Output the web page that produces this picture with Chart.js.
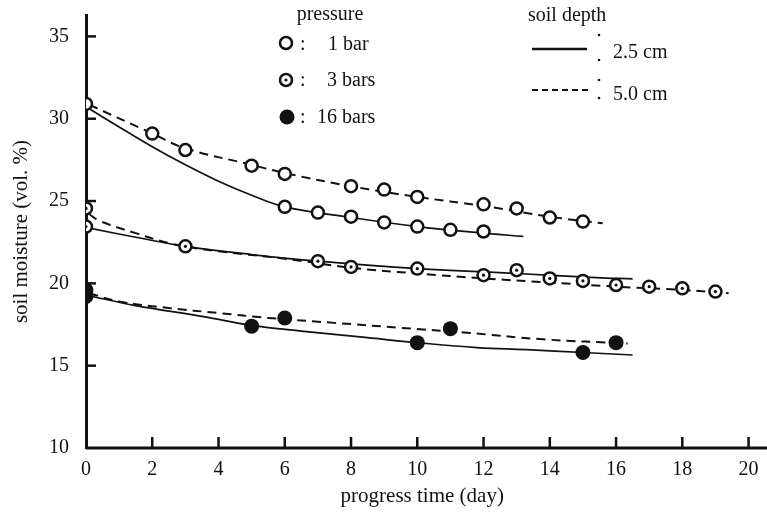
<!DOCTYPE html>
<html>
<head>
<meta charset="utf-8">
<title>soil moisture</title>
<script src="https://cdn.jsdelivr.net/npm/chart.js@4.4.1/dist/chart.umd.min.js"></script>
<style>
  html, body { margin: 0; padding: 0; background: #fff; }
</style>
</head>
<body>
<canvas id="soil-chart" width="767" height="520"></canvas>
<script>
const xTicks = [0, 2, 4, 6, 8, 10, 12, 14, 16, 18, 20];
const yTicks = [10, 15, 20, 25, 30, 35];

// measured points (day, vol. %)
const bar1Days25 = [6, 7, 8, 9, 10, 11, 12];
const bar1Moist25 = [24.65, 24.3, 24.05, 23.7, 23.45, 23.25, 23.15];
const bar1Days50 = [0, 2, 3, 5, 6, 8, 9, 10, 12, 13, 14, 15];
const bar1Moist50 = [30.9, 29.1, 28.1, 27.15, 26.65, 25.9, 25.7, 25.25, 24.8, 24.55, 24.0, 23.75];

const bar3Days25 = [0, 3, 7, 10, 13, 15];
const bar3Moist25 = [23.45, 22.25, 21.35, 20.9, 20.8, 20.15];
const bar3Days50 = [0, 8, 12, 14, 16, 17, 18, 19];
const bar3Moist50 = [24.55, 21.0, 20.5, 20.3, 19.9, 19.8, 19.7, 19.5];

const bar16Days25 = [0, 5, 10, 15];
const bar16Moist25 = [19.2, 17.4, 16.4, 15.8];
const bar16Days50 = [0, 6, 11, 16];
const bar16Moist50 = [19.6, 17.9, 17.25, 16.4];

// fitted curves
const bar1CurveX25 = [0.1, 1, 2, 3, 4, 5, 6, 8, 10, 12, 13.2];
const bar1CurveY25 = [30.6, 29.5, 28.3, 27.2, 26.2, 25.35, 24.65, 24.0, 23.45, 23.05, 22.85];
const bar1CurveX50 = [0.1, 2, 3, 5, 6, 8, 10, 12, 14, 15.6];
const bar1CurveY50 = [30.85, 29.1, 28.2, 27.2, 26.7, 25.9, 25.25, 24.7, 24.05, 23.65];

const bar3CurveX25 = [0.1, 1.5, 3, 5, 7, 10, 13, 15.4, 16.5];
const bar3CurveY25 = [23.35, 22.8, 22.25, 21.75, 21.35, 20.9, 20.6, 20.35, 20.27];
const bar3CurveX50 = [0.1, 0.4, 1.5, 2.6, 4, 6, 8, 10, 12, 14, 16, 18, 19.4];
const bar3CurveY50 = [24.2, 23.8, 23.05, 22.4, 21.95, 21.5, 20.95, 20.6, 20.3, 20.05, 19.8, 19.6, 19.4];

const bar16CurveX25 = [0.1, 1.5, 3.5, 5, 6.5, 8.5, 10, 11.8, 13.3, 15, 16.5];
const bar16CurveY25 = [19.25, 18.65, 18.0, 17.45, 17.1, 16.7, 16.4, 16.1, 15.97, 15.8, 15.65];
const bar16CurveX50 = [0.1, 1, 2.5, 4, 5.5, 7.5, 9.5, 11.5, 13.8, 16.35];
const bar16CurveY50 = [19.4, 18.9, 18.5, 18.2, 17.9, 17.6, 17.3, 17.0, 16.6, 16.35];

const FONT = 'Liberation Serif, Times New Roman, serif';
const INK = '#111';

const pairs = (xs, ys) => xs.map((x, i) => ({ x: x, y: ys[i] }));

const curve = (xs, ys, dashed) => ({
  data: pairs(xs, ys),
  showLine: true,
  borderColor: INK,
  borderWidth: dashed ? 2 : 1.7,
  borderDash: dashed ? [9, 6] : [],
  pointRadius: 0,
  tension: 0.4,
  fill: false,
  order: 3
});

const openDots = (xs, ys) => ({
  data: pairs(xs, ys),
  showLine: false,
  pointRadius: 6,
  pointBorderWidth: 2.5,
  pointBackgroundColor: '#fff',
  pointBorderColor: INK,
  order: 2
});

const centerDots = (xs, ys) => ({
  data: pairs(xs, ys),
  showLine: false,
  pointRadius: 1.6,
  pointBorderWidth: 0,
  pointBackgroundColor: INK,
  order: 1
});

const solidDots = (xs, ys) => ({
  data: pairs(xs, ys),
  showLine: false,
  pointRadius: 7.5,
  pointBorderWidth: 0,
  pointBackgroundColor: INK,
  order: 2
});

// tick marks point into the plot, plus the two hand-drawn keys
const decorations = {
  id: 'decorations',
  beforeDraw(chart) {
    const ctx = chart.ctx;
    ctx.save();
    ctx.fillStyle = '#fff';
    ctx.fillRect(0, 0, chart.width, chart.height);
    ctx.restore();
  },
  afterDraw(chart) {
    const ctx = chart.ctx;
    const area = chart.chartArea;
    const xs = chart.scales.x;
    const ys = chart.scales.y;
    ctx.save();
    ctx.strokeStyle = INK;
    // axis runs on to the right edge as in the scan
    ctx.lineWidth = 3;
    ctx.beginPath();
    ctx.moveTo(area.left, area.bottom);
    ctx.lineTo(chart.width, area.bottom);
    ctx.stroke();

    ctx.lineWidth = 2.5;
    xTicks.forEach(v => {
      if (v === 0) return;
      const px = xs.getPixelForValue(v);
      ctx.beginPath();
      ctx.moveTo(px, area.bottom);
      ctx.lineTo(px, area.bottom - 11);
      ctx.stroke();
    });
    yTicks.forEach(v => {
      if (v === 10) return;
      const py = ys.getPixelForValue(v);
      ctx.beginPath();
      ctx.moveTo(area.left, py);
      ctx.lineTo(area.left + 10, py);
      ctx.stroke();
    });

    // pressure key
    ctx.fillStyle = INK;
    ctx.font = '20px ' + FONT;
    ctx.textBaseline = 'alphabetic';
    ctx.textAlign = 'center';
    ctx.fillText('pressure', 330, 20);
    ctx.textAlign = 'left';

    ctx.lineWidth = 2.5;
    ctx.beginPath();
    ctx.arc(286, 43, 6, 0, Math.PI * 2);
    ctx.fillStyle = '#fff';
    ctx.fill();
    ctx.stroke();
    ctx.beginPath();
    ctx.arc(286, 80, 6, 0, Math.PI * 2);
    ctx.fill();
    ctx.stroke();
    ctx.fillStyle = INK;
    ctx.beginPath();
    ctx.arc(286, 80, 1.6, 0, Math.PI * 2);
    ctx.fill();
    ctx.beginPath();
    ctx.arc(287, 117, 7.5, 0, Math.PI * 2);
    ctx.fill();

    ctx.fillText(':', 300, 50);
    ctx.fillText('1 bar', 328, 50);
    ctx.fillText(':', 300, 86);
    ctx.fillText('3 bars', 327, 86);
    ctx.fillText(':', 300, 123);
    ctx.fillText('16 bars', 317, 123);

    // soil depth key
    ctx.fillText('soil depth', 528, 21);
    ctx.lineWidth = 2.5;
    ctx.beginPath();
    ctx.moveTo(532, 49);
    ctx.lineTo(587, 49);
    ctx.stroke();
    ctx.lineWidth = 2;
    ctx.setLineDash([6, 4]);
    ctx.beginPath();
    ctx.moveTo(532, 90);
    ctx.lineTo(588, 90);
    ctx.stroke();
    ctx.setLineDash([]);
    [35, 60, 80, 98].forEach(y => {
      ctx.beginPath();
      ctx.arc(599, y, 1.3, 0, Math.PI * 2);
      ctx.fill();
    });
    ctx.fillText('2.5 cm', 613, 58);
    ctx.fillText('5.0 cm', 613, 100);
    ctx.restore();
  }
};

const ctx = document.getElementById('soil-chart').getContext('2d');
new Chart(ctx, {
  type: 'scatter',
  data: {
    datasets: [
      centerDots(bar3Days25, bar3Moist25),
      centerDots(bar3Days50, bar3Moist50),
      openDots(bar1Days25, bar1Moist25),
      openDots(bar1Days50, bar1Moist50),
      openDots(bar3Days25, bar3Moist25),
      openDots(bar3Days50, bar3Moist50),
      solidDots(bar16Days25, bar16Moist25),
      solidDots(bar16Days50, bar16Moist50),
      curve(bar1CurveX25, bar1CurveY25, false),
      curve(bar1CurveX50, bar1CurveY50, true),
      curve(bar3CurveX25, bar3CurveY25, false),
      curve(bar3CurveX50, bar3CurveY50, true),
      curve(bar16CurveX25, bar16CurveY25, false),
      curve(bar16CurveX50, bar16CurveY50, true)
    ]
  },
  options: {
    responsive: false,
    animation: false,
    layout: { padding: { top: 15, right: 0, left: 0, bottom: 0 } },
    plugins: {
      legend: { display: false },
      tooltip: { enabled: false }
    },
    scales: {
      x: {
        type: 'linear',
        min: 0,
        max: 20.3,
        afterBuildTicks: s => { s.ticks = xTicks.map(v => ({ value: v })); },
        afterFit: s => { s.height = 72; s.paddingLeft = 0; s.paddingRight = 0; },
        grid: { display: false, drawTicks: false },
        border: { display: false },
        ticks: { color: INK, padding: 10, font: { family: FONT, size: 20 } },
        title: {
          display: true,
          text: 'progress time (day)',
          color: INK,
          font: { family: FONT, size: 21 },
          padding: { top: 0, bottom: 11 }
        }
      },
      y: {
        type: 'linear',
        min: 10,
        max: 36.3,
        afterBuildTicks: s => { s.ticks = yTicks.map(v => ({ value: v })); },
        afterFit: s => { s.width = 86; s.paddingTop = 0; s.paddingBottom = 0; },
        grid: { display: false, drawTicks: false },
        border: { display: true, color: INK, width: 3 },
        ticks: { color: INK, padding: 17, font: { family: FONT, size: 20 } },
        title: {
          display: true,
          text: 'soil moisture (vol. %)',
          color: INK,
          font: { family: FONT, size: 21 },
          padding: { top: 9, bottom: 0 }
        }
      }
    }
  },
  plugins: [decorations]
});
</script>
</body>
</html>
